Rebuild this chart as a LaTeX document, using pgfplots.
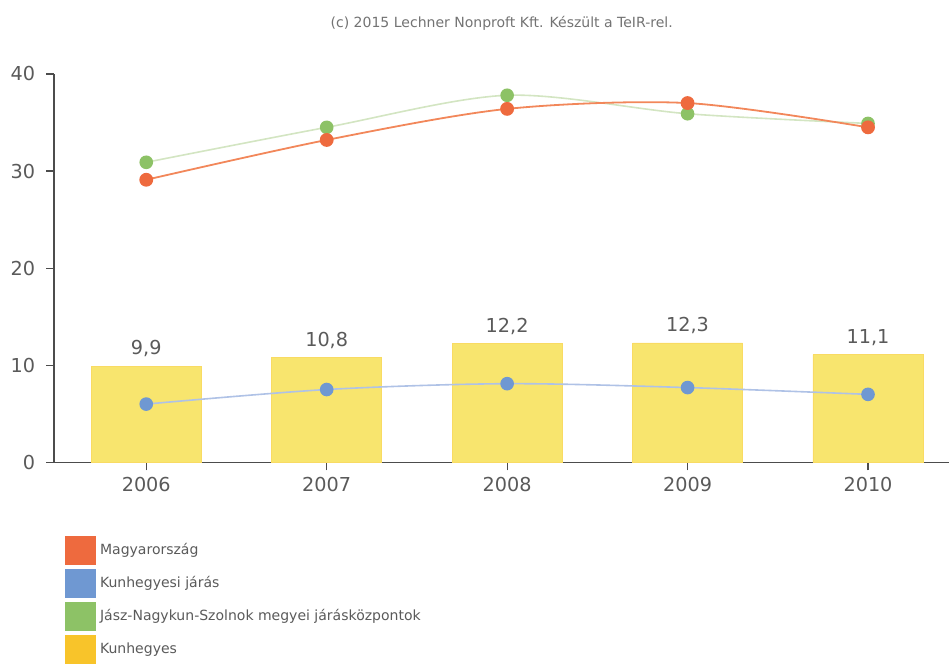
\documentclass[border=0pt]{standalone}
\usepackage{fontspec}
\setmainfont{DejaVu Sans}
\usepackage{pgfplots}
\pgfplotsset{compat=1.18}

\definecolor{cHU}{HTML}{EE6A3E}
\definecolor{cHUline}{HTML}{F2875A}
\definecolor{cJar}{HTML}{6F98D2}
\definecolor{cJarline}{HTML}{AFC2E6}
\definecolor{cMeg}{HTML}{8DC266}
\definecolor{cMegline}{HTML}{D3E5C2}
\definecolor{cBar}{HTML}{F8E56E}
\definecolor{cBarLeg}{HTML}{F8C42A}
\definecolor{txt}{HTML}{5A5A5A}

\pgfplotsset{
  sq/.style={legend image code/.code={\fill[#1] (0pt,-7pt) rectangle (15pt,7pt);}},
}

\begin{document}
\begin{tikzpicture}
\begin{axis}[
  scale only axis,
  width=447pt, height=194pt,
  xmin=-0.51, xmax=4.45,
  ymin=0, ymax=40,
  xtick={0,1,2,3,4},
  xticklabels={2006,2007,2008,2009,2010},
  ytick={0,10,20,30,40},
  axis x line=bottom, axis y line=left,
  axis line style={draw=black!70, line width=0.8pt, -},
  tick style={draw=black!70, line width=0.6pt},
  xtick align=outside, ytick align=outside,
  major tick length=4pt,
  ticklabel style={font=\fontsize{9.6}{12}\selectfont, text=txt},
  /pgf/number format/assume math mode=true,
  yticklabel style={xshift=-2pt},
  clip=false,
  legend cell align=left,
  legend style={at={(rel axis cs:0,0)}, anchor=north west, xshift=5.5pt, yshift=-37pt,
    draw=none, fill=none, inner sep=0pt, outer sep=0pt,
    font=\fontsize{7}{9}\selectfont, text=txt,
    row sep=2pt, legend columns=1},
  title={(c) 2015 Lechner Nonproft Kft. Készült a TeIR-rel.},
  title style={font=\fontsize{7}{9}\selectfont, text=black!55, yshift=12pt},
]
% Kunhegyes bars
\addplot[ybar, bar width=55pt, fill=cBar, draw=cBar!90!orange, line width=0.4pt,
  nodes near coords, point meta=explicit symbolic,
  every node near coord/.append style={font=\fontsize{9.6}{12}\selectfont, text=txt, yshift=1pt},
  forget plot]
  coordinates {(0,9.9)[9,9] (1,10.8)[10,8] (2,12.2)[12,2] (3,12.3)[12,3] (4,11.1)[11,1]};
% Jasz-Nagykun-Szolnok megyei jaraskozpontok
\addplot[smooth, tension=0.5, color=cMegline, line width=0.8pt, mark=*, mark size=3pt,
  mark options={fill=cMeg, draw=cMeg}, forget plot]
  coordinates {(0,30.9) (1,34.5) (2,37.8) (3,35.9) (4,34.9)};
% Magyarorszag
\addplot[smooth, tension=0.5, color=cHUline, line width=0.9pt, mark=*, mark size=3pt,
  mark options={fill=cHU, draw=cHU}, forget plot]
  coordinates {(0,29.1) (1,33.2) (2,36.4) (3,37.0) (4,34.5)};
% Kunhegyesi jaras
\addplot[smooth, tension=0.5, color=cJarline, line width=0.8pt, mark=*, mark size=3pt,
  mark options={fill=cJar, draw=cJar}, forget plot]
  coordinates {(0,6.0) (1,7.5) (2,8.1) (3,7.7) (4,7.0)};

\addlegendimage{sq=cHU}
\addlegendentry{Magyarország}
\addlegendimage{sq=cJar}
\addlegendentry{Kunhegyesi járás}
\addlegendimage{sq=cMeg}
\addlegendentry{Jász-Nagykun-Szolnok megyei járásközpontok}
\addlegendimage{sq=cBarLeg}
\addlegendentry{Kunhegyes}
\end{axis}
\path (current bounding box.north) ++(0,5pt);
\path (current bounding box.west) ++(-2pt,0);
\end{tikzpicture}
\end{document}
